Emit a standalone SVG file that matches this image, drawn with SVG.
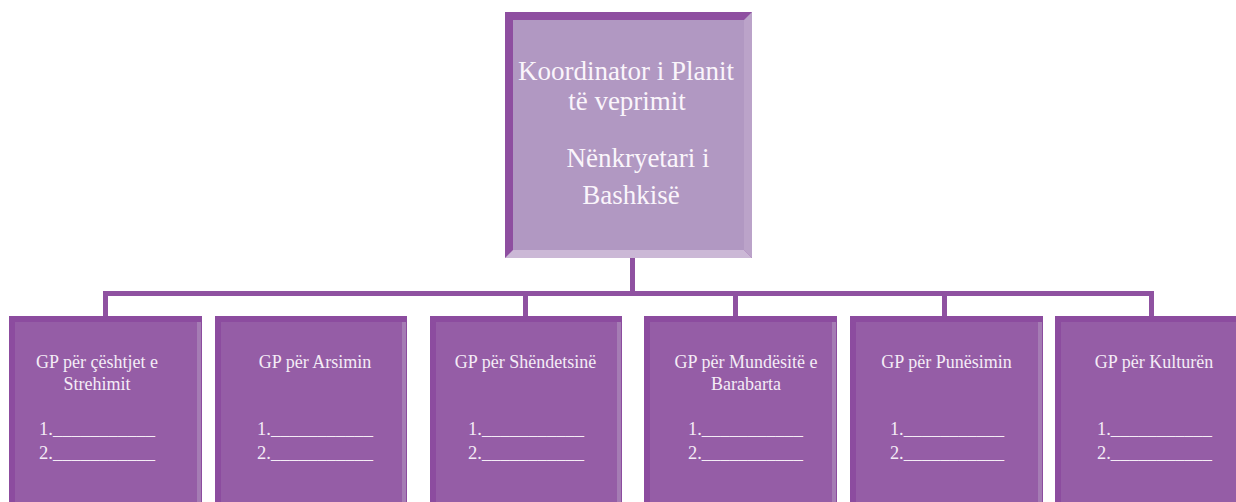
<svg xmlns="http://www.w3.org/2000/svg" width="1236" height="502" viewBox="0 0 1236 502">
<style>
.frame{fill:#8c4c9f}
.lite{fill:#a57cb4}
.inner{fill:#955da6}
.tframe{fill:#8e4ea0}
.tright{fill:#bba3c9}
.tbottom{fill:#cbb8d6}
.tinner{fill:#b198c2}
.ttxt{font-family:"Liberation Serif",serif;font-size:27px;fill:#faf5fb;text-anchor:middle}
.btxt{font-family:"Liberation Serif",serif;font-size:18px;fill:#f4ecf6;text-anchor:middle}
.ntxt{font-family:"Liberation Serif",serif;font-size:18px;fill:#f4ecf6}
.conn{fill:#8f52a1}
</style>
<rect width="1236" height="502" fill="#ffffff"/>
<g id="connectors">
<rect class="conn" x="630" y="256" width="5" height="38"/>
<rect class="conn" x="103" y="291" width="1051" height="5"/>
<rect class="conn" x="103" y="291" width="5" height="27"/>
<rect class="conn" x="523" y="291" width="5" height="27"/>
<rect class="conn" x="733" y="291" width="5" height="27"/>
<rect class="conn" x="942" y="291" width="5" height="27"/>
<rect class="conn" x="1149" y="291" width="5" height="27"/>
</g>
<g id="top">
<rect class="tframe" x="505" y="12" width="247" height="246"/>
<polygon class="tright" points="752,12 752,258 744,250 744,20"/>
<polygon class="tbottom" points="505,258 752,258 744,250 513,250"/>
<rect class="tinner" x="513" y="20" width="231" height="230"/>
<text class="ttxt" x="626" y="80">Koordinator i Planit</text>
<text class="ttxt" x="627" y="110">të veprimit</text>
<text class="ttxt" x="638" y="167">Nënkryetari i</text>
<text class="ttxt" x="631" y="204">Bashkisë</text>
</g>
<g id="b1">
<rect class="frame" x="9" y="316" width="193" height="200"/>
<rect class="lite" x="197" y="322" width="4" height="194"/>
<rect class="inner" x="15" y="322" width="182" height="194"/>
<text class="btxt" x="97" y="368">GP për çështjet e</text>
<text class="btxt" x="97" y="390">Strehimit</text>
<text class="ntxt" x="39" y="435" textLength="116" lengthAdjust="spacingAndGlyphs">1.___________</text>
<text class="ntxt" x="39" y="459" textLength="116" lengthAdjust="spacingAndGlyphs">2.___________</text>
</g>
<g id="b2">
<rect class="frame" x="215" y="316" width="192" height="200"/>
<rect class="lite" x="402" y="322" width="4" height="194"/>
<rect class="inner" x="221" y="322" width="181" height="194"/>
<text class="btxt" x="315" y="368">GP për Arsimin</text>
<text class="ntxt" x="257" y="435" textLength="116" lengthAdjust="spacingAndGlyphs">1.___________</text>
<text class="ntxt" x="257" y="459" textLength="116" lengthAdjust="spacingAndGlyphs">2.___________</text>
</g>
<g id="b3">
<rect class="frame" x="430" y="316" width="192" height="200"/>
<rect class="lite" x="617" y="322" width="4" height="194"/>
<rect class="inner" x="436" y="322" width="181" height="194"/>
<text class="btxt" x="525.5" y="368">GP për Shëndetsinë</text>
<text class="ntxt" x="468" y="435" textLength="116" lengthAdjust="spacingAndGlyphs">1.___________</text>
<text class="ntxt" x="468" y="459" textLength="116" lengthAdjust="spacingAndGlyphs">2.___________</text>
</g>
<g id="b4">
<rect class="frame" x="644" y="316" width="193" height="200"/>
<rect class="lite" x="832" y="322" width="4" height="194"/>
<rect class="inner" x="650" y="322" width="182" height="194"/>
<text class="btxt" x="746" y="368">GP për Mundësitë e</text>
<text class="btxt" x="746" y="390">Barabarta</text>
<text class="ntxt" x="688" y="435" textLength="115" lengthAdjust="spacingAndGlyphs">1.___________</text>
<text class="ntxt" x="688" y="459" textLength="115" lengthAdjust="spacingAndGlyphs">2.___________</text>
</g>
<g id="b5">
<rect class="frame" x="850" y="316" width="193" height="200"/>
<rect class="lite" x="1038" y="322" width="4" height="194"/>
<rect class="inner" x="856" y="322" width="182" height="194"/>
<text class="btxt" x="946.5" y="368">GP për Punësimin</text>
<text class="ntxt" x="890" y="435" textLength="114" lengthAdjust="spacingAndGlyphs">1.___________</text>
<text class="ntxt" x="890" y="459" textLength="114" lengthAdjust="spacingAndGlyphs">2.___________</text>
</g>
<g id="b6">
<rect class="frame" x="1055" y="316" width="193" height="200"/>
<rect class="inner" x="1061" y="322" width="182" height="194"/>
<text class="btxt" x="1154" y="368">GP për Kulturën</text>
<text class="ntxt" x="1097" y="435" textLength="115" lengthAdjust="spacingAndGlyphs">1.___________</text>
<text class="ntxt" x="1097" y="459" textLength="115" lengthAdjust="spacingAndGlyphs">2.___________</text>
</g>
</svg>
